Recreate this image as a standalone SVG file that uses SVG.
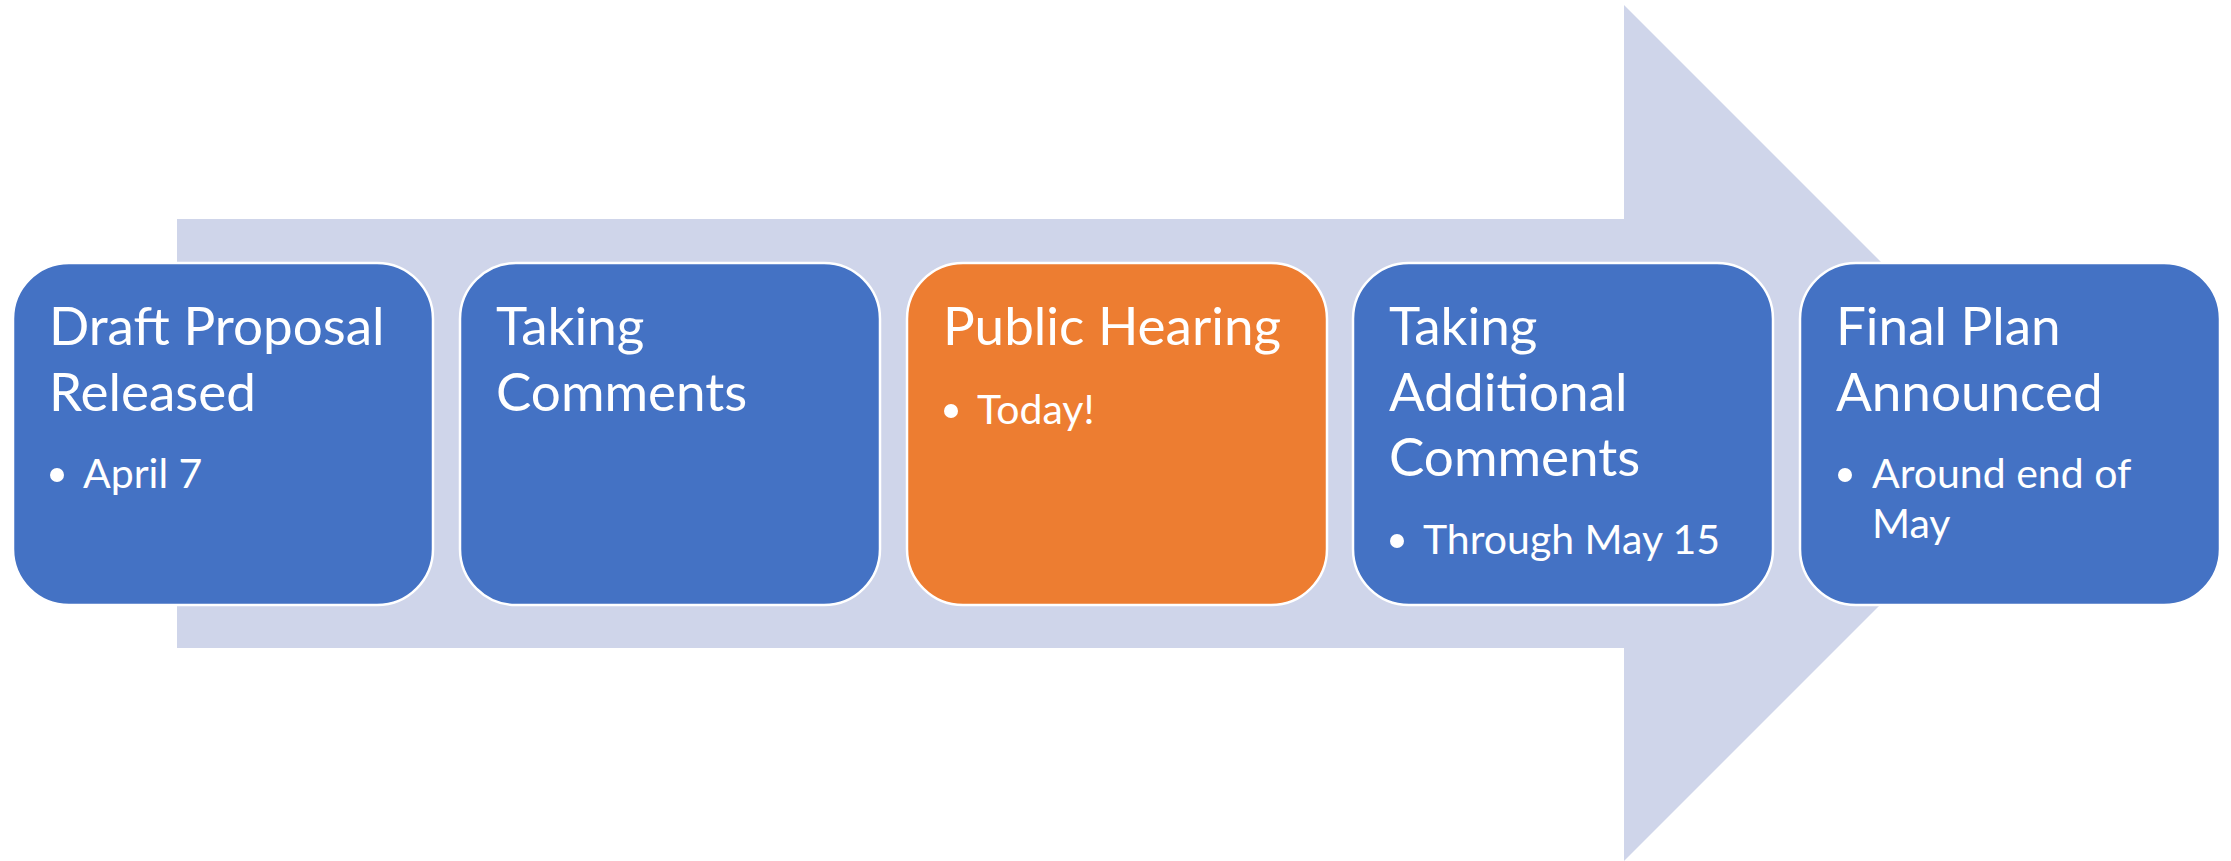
<svg xmlns="http://www.w3.org/2000/svg" width="2231" height="861" viewBox="0 0 2231 861">
<style>
.box{stroke:#ffffff;stroke-width:2.5}
.blue{fill:#4472C4}
.orange{fill:#ED7D31}
.t{font-family:Lato,"Liberation Sans",sans-serif;fill:#ffffff;font-size:53px}
.s{font-family:Lato,"Liberation Sans",sans-serif;fill:#ffffff;font-size:41px}
.dot{fill:#ffffff}
</style>
<rect width="2231" height="861" fill="#ffffff"/>
<g id="arrow">
<polygon points="177,219 1624,219 1624,5 2052,433 1624,861 1624,648 177,648" fill="#CFD5EA"/>
</g>
<g id="connectors"></g>
<g id="node1">
<rect class="box blue" x="13" y="263" width="420" height="342" rx="56"/>
<text class="t" x="49" y="345">Draft Proposal</text>
<text class="t" x="49" y="411">Released</text>
<circle class="dot" cx="57" cy="475" r="7"/>
<text class="s" x="83" y="488">April 7</text>
</g>
<g id="node2">
<rect class="box blue" x="460" y="263" width="420" height="342" rx="56"/>
<text class="t" x="496" y="345">Taking</text>
<text class="t" x="496" y="411">Comments</text>
</g>
<g id="node3">
<rect class="box orange" x="907" y="263" width="420" height="342" rx="56"/>
<text class="t" x="943" y="345">Public Hearing</text>
<circle class="dot" cx="951" cy="411" r="7"/>
<text class="s" x="977" y="424">Today!</text>
</g>
<g id="node4">
<rect class="box blue" x="1353" y="263" width="420" height="342" rx="56"/>
<text class="t" x="1389" y="345">Taking</text>
<text class="t" x="1389" y="411">Additional</text>
<text class="t" x="1389" y="476">Comments</text>
<circle class="dot" cx="1397" cy="541" r="7"/>
<text class="s" x="1423" y="554">Through May 15</text>
</g>
<g id="node5">
<rect class="box blue" x="1800" y="263" width="420" height="342" rx="56"/>
<text class="t" x="1836" y="345">Final Plan</text>
<text class="t" x="1836" y="411">Announced</text>
<circle class="dot" cx="1845" cy="475" r="7"/>
<text class="s" x="1872" y="488">Around end of</text>
<text class="s" x="1872" y="538">May</text>
</g>
</svg>
